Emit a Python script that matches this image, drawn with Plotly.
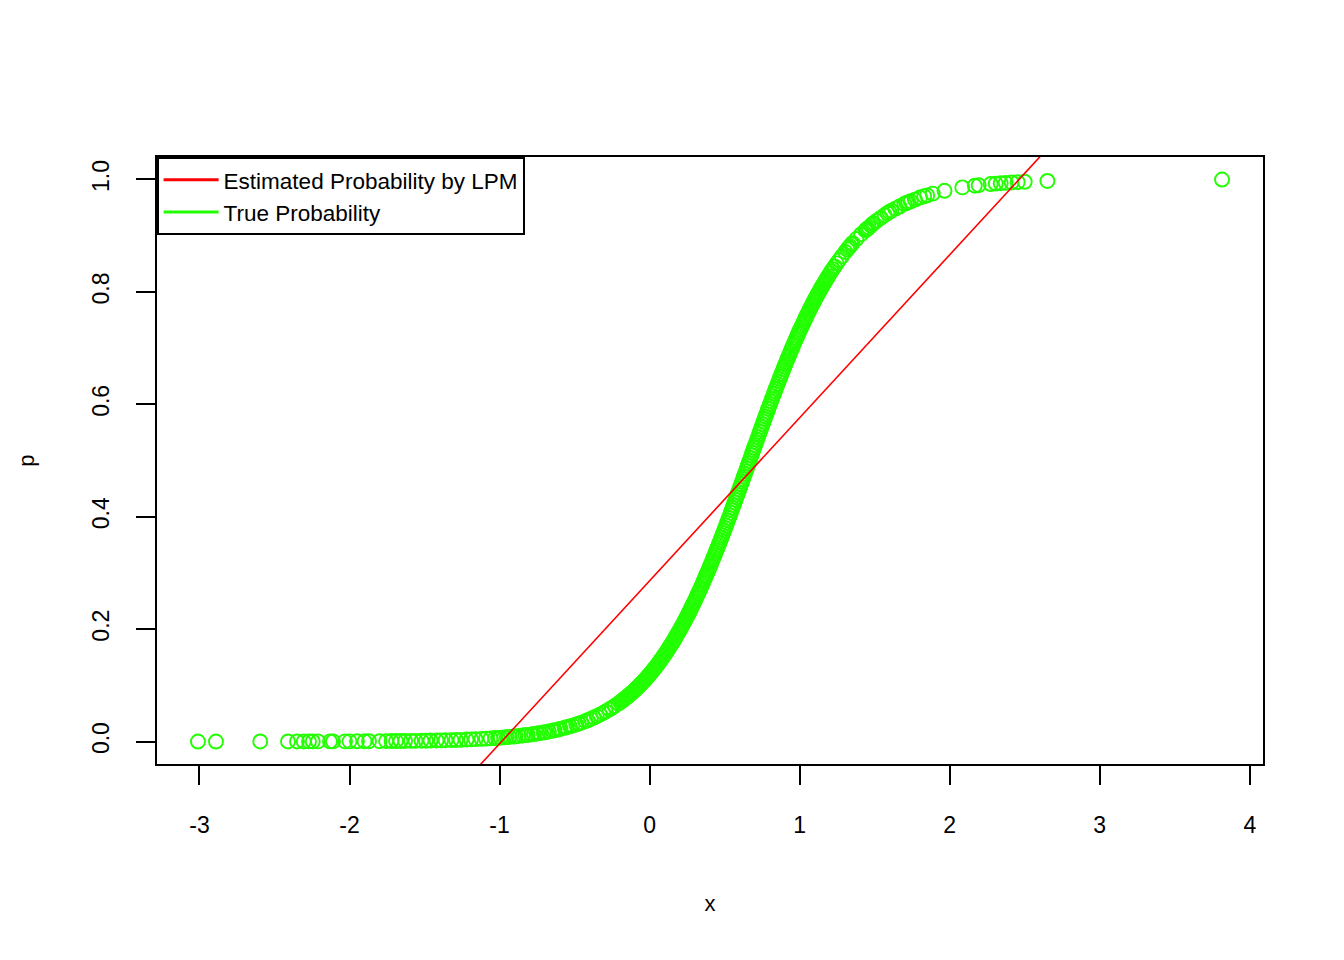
import plotly.graph_objs as go

# x values and true probabilities (sorted by x)
x_vals = [
    -3.01, -2.89, -2.595, -2.41, -2.35, -2.305, -2.27, -2.245, -2.21, -2.13,
    -2.11, -2.03, -2.0, -1.95, -1.9, -1.87, -1.80, -1.756,
    -1.72, -1.69, -1.66, -1.63, -1.59, -1.56, -1.52, -1.49, -1.46, -1.42,
    -1.39, -1.36, -1.32, -1.29, -1.26, -1.22, -1.19, -1.16, -1.12, -1.09,
    -1.06, -1.03, -1.01,
    -0.992, -0.968, -0.951, -0.934, -0.905, -0.893, -0.872, -0.846, -0.829, -0.812,
    -0.788, -0.771, -0.748, -0.733, -0.706, -0.692, -0.671, -0.648, -0.633, -0.609,
    -0.594, -0.566, -0.552, -0.531, -0.514, -0.489, -0.472, -0.455, -0.428, -0.413,
    -0.392, -0.371, -0.352, -0.331, -0.309, -0.292, -0.268, -0.251, -0.232, -0.209,
    -0.196, -0.183, -0.171, -0.157, -0.146, -0.133, -0.121, -0.108, -0.096, -0.082,
    -0.071, -0.058, -0.046, -0.033, -0.021, -0.008, 0.004, 0.017, 0.029, 0.041,
    0.054, 0.066, 0.079, 0.092, 0.103, 0.117, 0.128, 0.141, 0.154, 0.166,
    0.178, 0.191, 0.204, 0.216, 0.229, 0.241, 0.253, 0.266, 0.279, 0.291,
    0.303, 0.316, 0.328, 0.341, 0.354, 0.366, 0.378, 0.391, 0.404, 0.416,
    0.428, 0.441, 0.453, 0.466, 0.479, 0.491, 0.503, 0.516, 0.528, 0.541,
    0.553, 0.566, 0.579, 0.591, 0.604, 0.616, 0.628, 0.641, 0.654, 0.666,
    0.679, 0.691, 0.703, 0.716, 0.729, 0.741, 0.753, 0.766, 0.778, 0.791,
    0.803, 0.816, 0.829, 0.841, 0.853, 0.866, 0.878, 0.891, 0.904, 0.916,
    0.928, 0.941, 0.954, 0.966, 0.978, 0.991, 1.003, 1.016, 1.029, 1.041,
    1.053, 1.066, 1.079, 1.091, 1.104, 1.116, 1.128, 1.141, 1.153, 1.166,
    1.178, 1.191,
    1.203, 1.212, 1.221, 1.233, 1.247, 1.262, 1.281, 1.304, 1.318, 1.327,
    1.335, 1.345, 1.352, 1.378, 1.41, 1.438, 1.445, 1.452, 1.461, 1.475,
    1.485, 1.493, 1.512, 1.54, 1.566, 1.585, 1.598, 1.612, 1.638, 1.665,
    1.698, 1.712, 1.725, 1.74, 1.768, 1.802, 1.83, 1.85, 1.887, 1.965,
    2.084, 2.167, 2.193, 2.273, 2.307, 2.34, 2.373, 2.413, 2.453, 2.5,
    2.651, 3.815,
]

p_vals = [
    0.0000, 0.0000, 0.0001, 0.0001, 0.0001, 0.0001, 0.0002, 0.0002, 0.0002, 0.0002,
    0.0002, 0.0003, 0.0003, 0.0004, 0.0004, 0.0005, 0.0006, 0.0007,
    0.0008, 0.0008, 0.0009, 0.0010, 0.0011, 0.0012, 0.0014, 0.0015, 0.0017, 0.0019,
    0.0020, 0.0023, 0.0025, 0.0028, 0.0030, 0.0035, 0.0038, 0.0042, 0.0047, 0.0052,
    0.0056, 0.0062, 0.0065,
    0.0069, 0.0074, 0.0078, 0.0082, 0.0089, 0.0092, 0.0099, 0.0107, 0.0112, 0.0117,
    0.0126, 0.0133, 0.0143, 0.0149, 0.0160, 0.0167, 0.0179, 0.0192, 0.0200, 0.0214,
    0.0223, 0.0244, 0.0254, 0.0270, 0.0283, 0.0303, 0.0319, 0.0334, 0.0362, 0.0378,
    0.0402, 0.0427, 0.0450, 0.0479, 0.0509, 0.0535, 0.0573, 0.0599, 0.0633, 0.0675,
    0.0699, 0.0726, 0.0751, 0.0780, 0.0803, 0.0834, 0.0862, 0.0892, 0.0922, 0.0959,
    0.0988, 0.1022, 0.1055, 0.1094, 0.1129, 0.1168, 0.1205, 0.1248, 0.1288, 0.1328,
    0.1373, 0.1418, 0.1466, 0.1515, 0.1557, 0.1615, 0.1660, 0.1714, 0.1769, 0.1824,
    0.1878, 0.1937, 0.1998, 0.2058, 0.2122, 0.2182, 0.2243, 0.2313, 0.2384, 0.2448,
    0.2515, 0.2590, 0.2661, 0.2736, 0.2814, 0.2889, 0.2963, 0.3044, 0.3126, 0.3206,
    0.3285, 0.3371, 0.3451, 0.3540, 0.3630, 0.3713, 0.3797, 0.3890, 0.3976, 0.4069,
    0.4156, 0.4252, 0.4347, 0.4436, 0.4532, 0.4621, 0.4711, 0.4808, 0.4905, 0.4995,
    0.5093, 0.5183, 0.5272, 0.5369, 0.5466, 0.5555, 0.5644, 0.5739, 0.5826, 0.5921,
    0.6008, 0.6100, 0.6192, 0.6277, 0.6361, 0.6450, 0.6532, 0.6621, 0.6708, 0.6786,
    0.6863, 0.6948, 0.7030, 0.7104, 0.7177, 0.7256, 0.7328, 0.7402, 0.7476, 0.7544,
    0.7611, 0.7679, 0.7748, 0.7811, 0.7877, 0.7935, 0.7994, 0.8056, 0.8113, 0.8170,
    0.8223, 0.8280,
    0.8332, 0.8368, 0.8404, 0.8452, 0.8508, 0.8563, 0.8631, 0.8712, 0.8757, 0.8786,
    0.8812, 0.8845, 0.8866, 0.8940, 0.9026, 0.9093, 0.9110, 0.9126, 0.9148, 0.9181,
    0.9205, 0.9224, 0.9263, 0.9315, 0.9364, 0.9400, 0.9424, 0.9444, 0.9481, 0.9519,
    0.9566, 0.9582, 0.9596, 0.9612, 0.9642, 0.9679, 0.9702, 0.9718, 0.9748, 0.9799,
    0.9859, 0.9889, 0.9898, 0.9919, 0.9927, 0.9934, 0.9940, 0.9947, 0.9952, 0.9959,
    0.9974, 0.9999,
]

# more observations in the steep middle part, where the band is solid
x_vals_mid = [
    -0.189, -0.177, -0.163, -0.151, -0.139, -0.127, -0.114, -0.102, -0.089, -0.076,
    -0.064, -0.052, -0.039, -0.027, -0.014, -0.002, 0.011, 0.023, 0.035, 0.048,
    0.060, 0.073, 0.086, 0.098, 0.110, 0.123, 0.135, 0.148, 0.160, 0.172,
    0.185, 0.198, 0.210, 0.223, 0.235, 0.247, 0.260, 0.273, 0.285, 0.297,
    0.310, 0.322, 0.335, 0.348, 0.360, 0.372, 0.385, 0.398, 0.410, 0.422,
    0.435, 0.447, 0.460, 0.473, 0.485, 0.497, 0.510, 0.522, 0.535, 0.547,
    0.560, 0.573, 0.585, 0.598, 0.610, 0.622, 0.635, 0.648, 0.660, 0.673,
    0.685, 0.697, 0.710, 0.723, 0.735, 0.747, 0.760, 0.772, 0.785, 0.797,
    0.810, 0.823, 0.835, 0.847, 0.860, 0.872, 0.885, 0.898, 0.910, 0.922,
    0.935, 0.948, 0.960, 0.972, 0.985, 0.997, 1.010, 1.023, 1.035, 1.047,
    1.060, 1.073, 1.085, 1.098, 1.110, 1.122, 1.135, 1.147, 1.160, 1.172,
    1.185,
]

p_vals_mid = [
    0.0713, 0.0738, 0.0767, 0.0792, 0.0819, 0.0848, 0.0878, 0.0907, 0.0940, 0.0974,
    0.1006, 0.1038, 0.1075, 0.1111, 0.1149, 0.1187, 0.1228, 0.1268, 0.1308, 0.1351,
    0.1395, 0.1442, 0.1491, 0.1537, 0.1586, 0.1638, 0.1687, 0.1742, 0.1797, 0.1851,
    0.1908, 0.1968, 0.2028, 0.2090, 0.2152, 0.2213, 0.2278, 0.2349, 0.2416, 0.2482,
    0.2553, 0.2626, 0.2699, 0.2775, 0.2852, 0.2926, 0.3004, 0.3085, 0.3166, 0.3246,
    0.3328, 0.3411, 0.3496, 0.3585, 0.3672, 0.3755, 0.3844, 0.3933, 0.4023, 0.4113,
    0.4204, 0.4300, 0.4392, 0.4484, 0.4577, 0.4666, 0.4760, 0.4857, 0.4950, 0.5044,
    0.5138, 0.5228, 0.5321, 0.5418, 0.5511, 0.5600, 0.5692, 0.5783, 0.5874, 0.5965,
    0.6054, 0.6146, 0.6235, 0.6319, 0.6406, 0.6491, 0.6577, 0.6665, 0.6747, 0.6825,
    0.6906, 0.6989, 0.7067, 0.7141, 0.7217, 0.7292, 0.7365, 0.7439, 0.7510, 0.7578,
    0.7645, 0.7714, 0.7780, 0.7844, 0.7906, 0.7965, 0.8025, 0.8085, 0.8142, 0.8197,
    0.8252,
]

# LPM fit (abline)
lpm_intercept = 0.286
lpm_slope = 0.290

x_range = [-3.283, 4.088]
y_range = [-0.04, 1.04]
x_ticks = [-3, -2, -1, 0, 1, 2, 3, 4]
x_ticktext = ["-3", "-2", "-1", "0", "1", "2", "3", "4"]
y_ticks = [0.0, 0.2, 0.4, 0.6, 0.8, 1.0]
y_ticktext = ["0.0", "0.2", "0.4", "0.6", "0.8", "1.0"]

green = "#22ff00"
red = "#ff0000"
font = "Liberation Sans, Arial, sans-serif"


def render_plot():
    fig = go.Figure()

    # points: true probability
    fig.add_trace(go.Scatter(
        x=x_vals + x_vals_mid, y=p_vals + p_vals_mid, mode="markers",
        marker=dict(symbol="circle-open", size=14, color=green,
                    line=dict(width=1.9, color=green)),
        showlegend=False,
    ))

    # abline across the whole plot region
    fig.add_trace(go.Scatter(
        x=x_range,
        y=[lpm_intercept + lpm_slope * v for v in x_range],
        mode="lines", line=dict(color=red, width=1.6),
        showlegend=False,
    ))

    # legend entries (lines, like R's legend(lwd=2))
    fig.add_trace(go.Scatter(x=[None], y=[None], mode="lines",
                             line=dict(color=red, width=3),
                             name="Estimated Probability by LPM"))
    fig.add_trace(go.Scatter(x=[None], y=[None], mode="lines",
                             line=dict(color=green, width=3),
                             name="True Probability"))

    axis_common = dict(
        showline=True, linecolor="black", linewidth=1.6, mirror=True,
        ticks="outside", ticklen=19, tickwidth=1.6, tickcolor="black",
        showgrid=False, zeroline=False,
        tickfont=dict(size=23, color="black", family=font),
    )

    # page body adds an 8px offset, so margins are reduced by 8 on top/left
    fig.update_layout(
        width=1344, height=960,
        margin=dict(l=149, r=89, t=149, b=204),
        plot_bgcolor="white", paper_bgcolor="white",
        font=dict(family=font, size=22, color="black"),
        xaxis=dict(range=x_range, tickvals=x_ticks, ticktext=x_ticktext,
                   ticklabelstandoff=21,
                   title=dict(text="x", standoff=58,
                              font=dict(size=22, family=font)),
                   **axis_common),
        yaxis=dict(range=y_range, tickvals=y_ticks, ticktext=y_ticktext,
                   tickangle=-90, ticklabelstandoff=18,
                   title=dict(text="p", standoff=47,
                              font=dict(size=22, family=font)),
                   **axis_common),
        legend=dict(x=0, y=1, xanchor="left", yanchor="top",
                    bordercolor="black", borderwidth=1.6, bgcolor="white",
                    font=dict(size=22.5, family=font, color="black"),
                    tracegroupgap=0, itemwidth=55),
    )

    fig.write_html("out.html")


if __name__ == "__main__":
    render_plot()
